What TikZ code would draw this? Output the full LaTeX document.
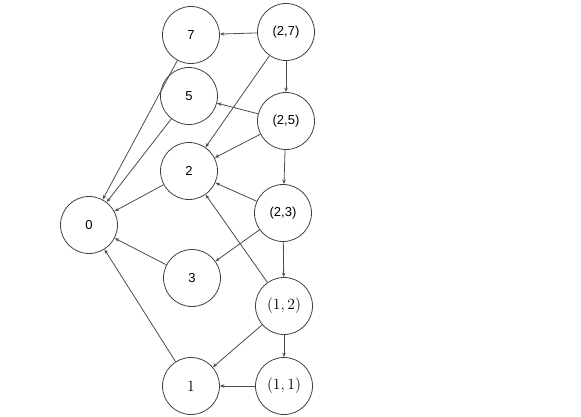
\documentclass[tikz,border=0pt]{standalone}
\usepackage{fontspec}
\setmainfont{Liberation Sans}
\usetikzlibrary{arrows.meta}
\newcommand{\mlab}[1]{\scalebox{1.3}{$#1$}}
\begin{document}
\begin{tikzpicture}[x=1pt,y=-1pt,
  vnode/.style={circle,draw=black!75,line width=0.8pt,minimum size=57pt,inner sep=0pt,font=\fontsize{13}{15}\selectfont},
  edge/.style={draw=black!70,line width=0.8pt,-{Stealth[length=4.5pt,width=3.5pt]}}]
\useasboundingbox (0,0) rectangle (581,416);
\node[vnode] (n7) at (191,35) {7};
\node[vnode] (p27) at (286,32) {(2,7)};
\node[vnode] (n5) at (189,96) {5};
\node[vnode] (p25) at (286,121) {(2,5)};
\node[vnode] (n2) at (189,171) {2};
\node[vnode] (p23) at (283,213) {(2,3)};
\node[vnode] (n0) at (89,225) {0};
\node[vnode] (n3) at (192,278) {3};
\node[vnode] (p12) at (284,306) {\mlab{(1,2)}};
\node[vnode] (n1) at (191,386) {\mlab{1}};
\node[vnode] (p11) at (284,386) {\mlab{(1,1)}};
\draw[edge] (p27) -- (n7);
\draw[edge] (p27) -- (p25);
\draw[edge] (p27) -- (n2);
\draw[edge] (p25) -- (n5);
\draw[edge] (p25) -- (n2);
\draw[edge] (p25) -- (p23);
\draw[edge] (p23) -- (n2);
\draw[edge] (p23) -- (n3);
\draw[edge] (p23) -- (p12);
\draw[edge] (p12) -- (n2);
\draw[edge] (p12) -- (n1);
\draw[edge] (p12) -- (p11);
\draw[edge] (p11) -- (n1);
\draw[edge] (n7) -- (n0);
\draw[edge] (n5) -- (n0);
\draw[edge] (n2) -- (n0);
\draw[edge] (n3) -- (n0);
\draw[edge] (n1) -- (n0);
\end{tikzpicture}
\end{document}
